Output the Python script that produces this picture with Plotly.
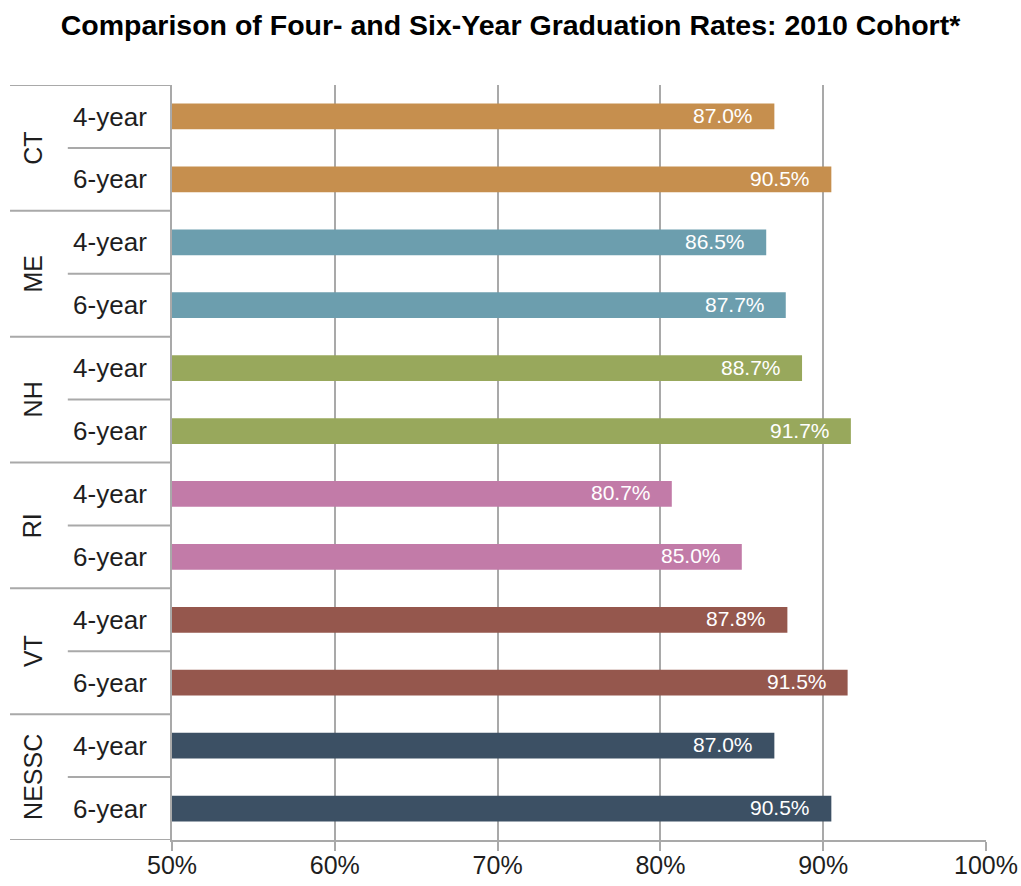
import plotly.graph_objects as go

# Graduation rates (%) for the 2010 cohort
states = ["CT", "ME", "NH", "RI", "VT", "NESSC"]
four_year = [87.0, 86.5, 88.7, 80.7, 87.8, 87.0]
six_year = [90.5, 87.7, 91.7, 85.0, 91.5, 90.5]
colors = ["#C68F4E", "#6C9EAE", "#98A85C", "#C27BA8", "#95574D", "#3C5064"]
sub_labels = ["4-year", "6-year"]
x_ticks = [50, 60, 70, 80, 90, 100]

FONT = "Liberation Sans, Arial, Helvetica, sans-serif"
GRID = "#a9a9a9"
TEXT = "#1e1e1e"

fig = go.Figure()

tick_vals, tick_text = [], []
annotations = []
for i, (st, v4, v6, col) in enumerate(zip(states, four_year, six_year, colors)):
    rows = [2 * i, 2 * i + 1]
    vals = [v4, v6]
    fig.add_trace(go.Bar(
        x=vals, y=rows, orientation="h",
        marker=dict(color=col, line=dict(width=0)),
        width=0.41, name=st, showlegend=False, hoverinfo="x+name",
    ))
    tick_vals += rows
    tick_text += sub_labels
    for r, v in zip(rows, vals):
        annotations.append(dict(
            x=v, y=r, xref="x", yref="y", text=f"{v:.1f}%",
            xanchor="right", yanchor="middle", xshift=-19, yshift=1,
            showarrow=False, font=dict(family=FONT, size=21, color="white"),
        ))
    # state name, rotated, centred on its pair of rows
    annotations.append(dict(
        x=-0.171, y=2 * i + 0.5, xref="paper", yref="y", text=st,
        textangle=-90, xanchor="center", yanchor="middle", showarrow=False,
        font=dict(family=FONT, size=25, color=TEXT),
    ))

# category dividers in the label area
shapes = []
for i in range(len(states) + 1):
    shapes.append(dict(type="line", xref="paper", yref="y",
                       x0=-0.199, x1=0, y0=2 * i - 0.5, y1=2 * i - 0.5,
                       line=dict(color=GRID, width=2)))
for i in range(len(states)):
    shapes.append(dict(type="line", xref="paper", yref="y",
                       x0=-0.128, x1=0, y0=2 * i + 0.5, y1=2 * i + 0.5,
                       line=dict(color=GRID, width=2)))

fig.update_layout(
    width=1021, height=886,
    margin=dict(l=172, r=35, t=85, b=46, autoexpand=False),
    paper_bgcolor="white", plot_bgcolor="white",
    title=dict(text="<b>Comparison of Four- and Six-Year Graduation Rates: 2010 Cohort*</b>",
               x=0.5, xanchor="center", y=0.972, yanchor="middle",
               font=dict(family=FONT, size=28.5, color="black")),
    annotations=annotations,
    shapes=shapes,
)
fig.update_xaxes(
    range=[50, 100], tickvals=x_ticks, ticktext=[f"{t}%" for t in x_ticks],
    showgrid=True, gridcolor=GRID, gridwidth=2,
    showline=True, linecolor=GRID, linewidth=2,
    ticks="outside", ticklen=9, tickcolor=GRID, tickwidth=2,
    ticklabelstandoff=-7,
    tickfont=dict(family=FONT, size=25, color=TEXT),
    zeroline=False, fixedrange=True, automargin=False,
)
fig.update_yaxes(
    range=[11.5, -0.5], tickvals=tick_vals, ticktext=tick_text,
    showgrid=False, showline=True, linecolor=GRID, linewidth=2,
    ticks="", ticklabelstandoff=18,
    tickfont=dict(family=FONT, size=26, color=TEXT),
    zeroline=False, fixedrange=True, automargin=False,
)

fig.write_html("out.html")
